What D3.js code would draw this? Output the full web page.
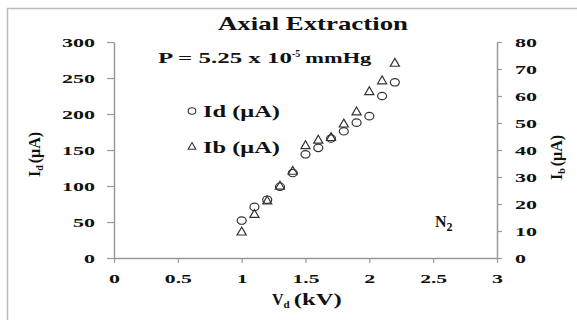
<!DOCTYPE html>
<html>
<head>
<meta charset="utf-8">
<script src="https://cdn.jsdelivr.net/npm/d3@7"></script>
<style>
  body { margin: 0; background: #fff; }
  text { font-family: "Liberation Serif", "Times New Roman", serif; font-weight: bold; fill: #111; }
</style>
</head>
<body>
<div id="chart"></div>
<script>
// data
var vd = [1.0, 1.1, 1.2, 1.3, 1.4, 1.5, 1.6, 1.7, 1.8, 1.9, 2.0, 2.1, 2.2];
var idValues = [52, 71, 81, 99, 118, 144, 153, 166, 176, 188, 197, 225, 244];
var ibValues = [9.5, 16, 21, 26.5, 32, 41.5, 43.5, 44.5, 49.5, 54, 61.5, 65.5, 72];
var xTicks = [0, 0.5, 1, 1.5, 2, 2.5, 3];
var leftTicks = [0, 50, 100, 150, 200, 250, 300];
var rightTicks = [0, 10, 20, 30, 40, 50, 60, 70, 80];

var svgWidth = 577;
var svgHeight = 320;
var margin = { top: 42, right: 80, bottom: 62, left: 114 };
var width = 497 - margin.left;
var height = 258 - margin.top;

var svg = d3.select("#chart").append("svg")
  .attr("width", svgWidth)
  .attr("height", svgHeight);

// outer frame
svg.append("rect")
  .attr("x", 7.5).attr("y", 8.5)
  .attr("width", 600).attr("height", 400)
  .attr("fill", "none")
  .attr("stroke", "#bbb")
  .attr("stroke-width", 1.5);

var g = svg.append("g")
  .attr("transform", `translate(${margin.left}, ${margin.top})`);

var x = d3.scaleLinear().domain([0, 3]).range([0, width]);
var yLeft = d3.scaleLinear().domain([0, 300]).range([height, 0]);
var yRight = d3.scaleLinear().domain([0, 80]).range([height, 0]);

// the original labels are stretched wide, so fit each to a width
function labelWidth(s) {
  var w = 0;
  for (var c of s) w += (c === ".") ? 5 : 11;
  return w;
}

function styleAxis(sel) {
  sel.select(".domain").attr("stroke", "#999").attr("stroke-width", 1.5);
  sel.selectAll(".tick line").attr("stroke", "#999").attr("stroke-width", 1.2);
  sel.selectAll(".tick text")
    .style("font-size", "13px")
    .attr("fill", "#111")
    .attr("textLength", function() { return labelWidth(this.textContent); })
    .attr("lengthAdjust", "spacingAndGlyphs");
}

g.append("g")
  .attr("transform", `translate(0, ${height})`)
  .call(d3.axisBottom(x).tickValues(xTicks).tickFormat(d3.format("")).tickSize(5).tickPadding(11).tickSizeOuter(0))
  .call(styleAxis);

g.append("g")
  .call(d3.axisLeft(yLeft).tickValues(leftTicks).tickSize(7).tickPadding(12).tickSizeOuter(0))
  .call(styleAxis);

g.append("g")
  .attr("transform", `translate(${width}, 0)`)
  .call(d3.axisRight(yRight).tickValues(rightTicks).tickSize(5).tickPadding(13).tickSizeOuter(0))
  .call(styleAxis);

var triangle = d3.symbol().type(d3.symbolTriangle).size(36);

// Id circles (left axis)
g.selectAll(".id")
  .data(vd)
  .enter()
  .append("ellipse")
  .attr("cx", d => x(d))
  .attr("cy", (d, i) => yLeft(idValues[i]))
  .attr("rx", 4.5)
  .attr("ry", 3.7)
  .attr("fill", "none")
  .attr("stroke", "#333")
  .attr("stroke-width", 1.2);

// Ib triangles (right axis)
g.selectAll(".ib")
  .data(vd)
  .enter()
  .append("path")
  .attr("d", triangle)
  .attr("transform", (d, i) => `translate(${x(d)}, ${yRight(ibValues[i])})`)
  .attr("fill", "none")
  .attr("stroke", "#333")
  .attr("stroke-width", 1.2);

// title and notes
svg.append("text")
  .attr("x", 218).attr("y", 30)
  .style("font-size", "19px")
  .attr("textLength", 190)
  .attr("lengthAdjust", "spacingAndGlyphs")
  .text("Axial Extraction");

var p = svg.append("text")
  .attr("x", 158).attr("y", 63)
  .style("font-size", "15px");
p.append("tspan").attr("textLength", 134).attr("lengthAdjust", "spacingAndGlyphs").text("P = 5.25 x 10");
p.append("tspan").attr("dy", -6).style("font-size", "10px").text("-5");
p.append("tspan").attr("dy", 6).attr("dx", 5).attr("textLength", 66).attr("lengthAdjust", "spacingAndGlyphs").text("mmHg");

// legend
svg.append("ellipse")
  .attr("cx", 192).attr("cy", 111)
  .attr("rx", 3.8).attr("ry", 3.2)
  .attr("fill", "none").attr("stroke", "#333").attr("stroke-width", 1.1);
svg.append("text")
  .attr("x", 203).attr("y", 117)
  .style("font-size", "16px")
  .attr("textLength", 77)
  .attr("lengthAdjust", "spacingAndGlyphs")
  .text("Id (μA)");

svg.append("path")
  .attr("d", d3.symbol().type(d3.symbolTriangle).size(26))
  .attr("transform", "translate(192, 147)")
  .attr("fill", "none").attr("stroke", "#333").attr("stroke-width", 1.1);
svg.append("text")
  .attr("x", 203).attr("y", 153)
  .style("font-size", "16px")
  .attr("textLength", 77)
  .attr("lengthAdjust", "spacingAndGlyphs")
  .text("Ib (μA)");

// N2 label
var n2 = svg.append("text")
  .attr("x", 435).attr("y", 227)
  .style("font-size", "16px");
n2.append("tspan").text("N");
n2.append("tspan").attr("dy", 4).style("font-size", "12px").text("2");

// axis titles
var xt = svg.append("text")
  .attr("x", 272).attr("y", 305)
  .style("font-size", "16px");
xt.append("tspan").text("V");
xt.append("tspan").attr("dy", 3).style("font-size", "11px").text("d");
xt.append("tspan").attr("dy", -3).attr("dx", 4).attr("textLength", 48).attr("lengthAdjust", "spacingAndGlyphs").text("(kV)");

var lt = svg.append("text")
  .attr("transform", "translate(40, 177) rotate(-90)")
  .style("font-size", "16px");
lt.append("tspan").text("I");
lt.append("tspan").attr("dy", 3).style("font-size", "10px").text("d");
lt.append("tspan").attr("dy", -3).attr("dx", 2).text("(μA)");

var rt = svg.append("text")
  .attr("transform", "translate(562, 180) rotate(-90)")
  .style("font-size", "16px");
rt.append("tspan").text("I");
rt.append("tspan").attr("dy", 3).style("font-size", "10px").text("b");
rt.append("tspan").attr("dy", -3).attr("dx", 2).text("(μA)");
</script>
</body>
</html>
